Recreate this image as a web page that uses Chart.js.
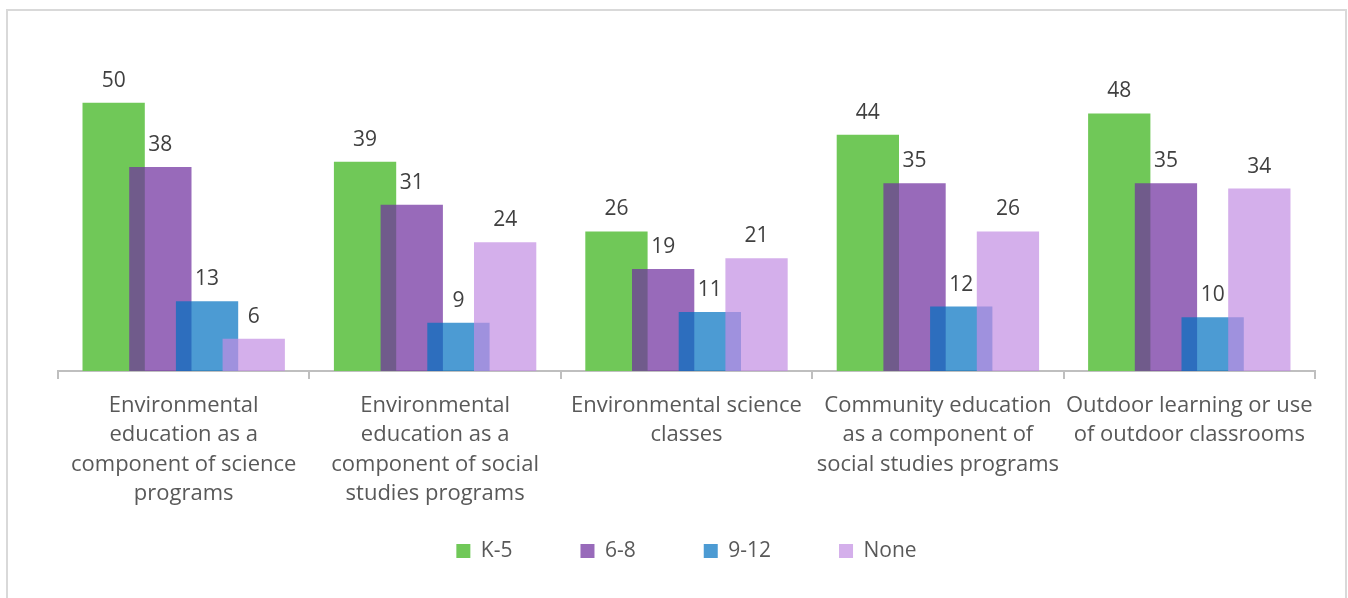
<!DOCTYPE html>
<html>
<head>
<meta charset="utf-8">
<script src="https://cdn.jsdelivr.net/npm/chart.js@4.4.1/dist/chart.umd.min.js"></script>
<style>
  body { margin: 0; background: #fff; overflow: hidden; }
  #wrap { position: relative; width: 1348px; height: 598px; }
  #frame { position: absolute; left: 6px; top: 9px; width: 1337px; height: 600px; border: 2px solid #d9d9d9; pointer-events: none; }
</style>
</head>
<body>
<div id="wrap">
  <canvas id="myChart"></canvas>
  <div id="frame"></div>
</div>
<script>
// categories (already wrapped like in the picture)
const programas = [
  ['Environmental', 'education as a', 'component of science', 'programs'],
  ['Environmental', 'education as a', 'component of social', 'studies programs'],
  ['Environmental science', 'classes'],
  ['Community education', 'as a component of', 'social studies programs'],
  ['Outdoor learning or use', 'of outdoor classrooms']
];
const series = ['K-5', '6-8', '9-12', 'None'];
const k5 = [50, 39, 26, 44, 48];
const g68 = [38, 31, 19, 35, 35];
const g912 = [13, 9, 11, 12, 10];
const none = [6, 24, 21, 26, 34];

const cores = ['rgb(112,200,88)', 'rgba(112,48,160,0.72)', 'rgba(0,112,192,0.7)', 'rgba(194,141,226,0.7)'];

// excel draws the first series at the back, chart.js at the front -> draw them ourselves
const ordemExcel = {
  id: 'ordemExcel',
  beforeDatasetsDraw(chart) {
    for (let i = 0; i < chart.data.datasets.length; i++) {
      chart.getDatasetMeta(i).controller.draw();
    }
    return false;
  },
  afterDraw(chart) {
    const ctx = chart.ctx;
    ctx.save();
    ctx.font = '21px "Open Sans"';
    ctx.fillStyle = '#404040';
    ctx.textAlign = 'center';
    ctx.textBaseline = 'alphabetic';
    chart.data.datasets.forEach((ds, i) => {
      chart.getDatasetMeta(i).data.forEach((bar, j) => {
        ctx.fillText(ds.data[j], bar.x, bar.y - 16);
      });
    });
    ctx.restore();
  }
};

Chart.defaults.font.family = '"Open Sans"';
Chart.defaults.color = '#595959';

const ctx = document.getElementById('myChart').getContext('2d');
const chart = new Chart(ctx, {
  type: 'bar',
  data: {
    labels: programas,
    datasets: [k5, g68, g912, none].map((d, i) => ({
      label: series[i],
      data: d,
      backgroundColor: cores[i],
      borderWidth: 0,
      categoryPercentage: 0.743,
      barPercentage: 1.334
    }))
  },
  options: {
    responsive: true,
    maintainAspectRatio: false,
    animation: false,
    layout: { padding: { left: 58, right: 33, top: 49, bottom: 26.5 } },
    plugins: {
      tooltip: { enabled: false },
      legend: {
        position: 'bottom',
        labels: { boxWidth: 14, boxHeight: 14, padding: 68, font: { size: 21 }, color: '#595959' }
      }
    },
    scales: {
      x: {
        // labels hang down next to the legend, so keep the axis box short and don't clip them
        afterFit(scale) {
          scale.height = 101.5;
          scale._computeLabelArea = () => undefined;
        },
        grid: { drawOnChartArea: false, drawTicks: true, tickLength: 8, color: '#bfbfbf', lineWidth: 2 },
        border: { color: '#bfbfbf', width: 2 },
        ticks: { font: { size: 22, lineHeight: 1.34 }, color: '#595959', padding: 12, maxRotation: 0, autoSkip: false }
      },
      y: { display: false, min: 0, max: 60 }
    }
  },
  plugins: [ordemExcel]
});
</script>
</body>
</html>
